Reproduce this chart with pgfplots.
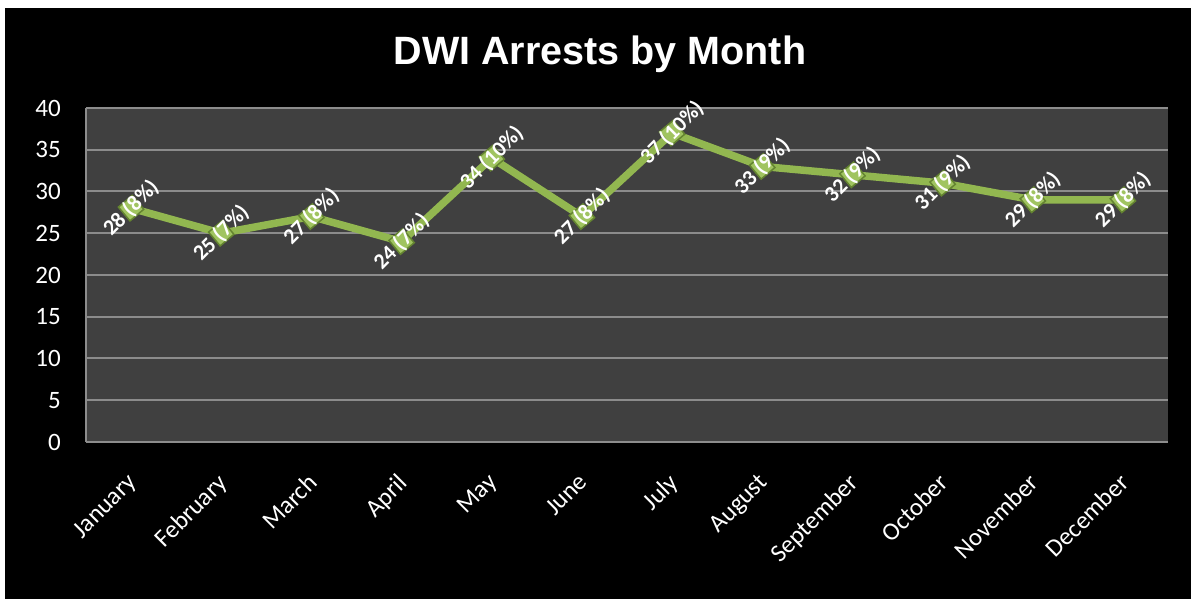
\documentclass[border=0pt]{standalone}
\usepackage{fontspec}
\setmainfont{Carlito}
\newfontfamily\titlefont{Liberation Sans}
\usepackage{pgfplots}
\pgfplotsset{compat=1.18}
\definecolor{bggray}{RGB}{64,64,64}
\definecolor{gridgray}{RGB}{140,140,140}
\definecolor{linegreen}{RGB}{146,183,80}
\definecolor{markgreen}{RGB}{160,196,96}
\definecolor{markedge}{RGB}{100,132,48}
\begin{document}
\begin{tikzpicture}[x=1bp,y=1bp]
\fill[white] (0,0) rectangle (1191,599);
\fill[black] (5,0) rectangle (1191,591);
\useasboundingbox (0,0) rectangle (1191,599);
\node[font=\titlefont\bfseries\fontsize{39.5bp}{46bp}\selectfont, white] at (600,545) {DWI Arrests by Month};
\begin{axis}[
  at={(86bp,157bp)}, anchor=south west,
  scale only axis, width=1082bp, height=334bp,
  xmin=-0.5, xmax=11.5, ymin=0, ymax=40,
  ytick={0,5,...,40},
  xtick={0,...,11},
  xticklabels={January,February,March,April,May,June,July,August,September,October,November,December},
  axis background/.style={fill=bggray},
  ymajorgrids, grid style={gridgray, line width=2bp},
  axis lines*=left,
  axis line style={gridgray, line width=2bp},
  major tick length=0pt,
  tick label style={white, font=\fontsize{25bp}{30bp}\selectfont},
  /pgf/number format/assume math mode=true,
  yticklabel style={anchor=east, inner sep=0pt, xshift=-25bp},
  xticklabel style={xshift=-5bp, yshift=-30bp, rotate=45, anchor=north east, inner sep=0pt},
  clip=false,
]
\addplot[color=linegreen, line width=7.5bp, no marks] coordinates {
  (0,28) (1,25) (2,27) (3,24) (4,34) (5,27) (6,37) (7,33) (8,32) (9,31) (10,29) (11,29)
};
\addplot[only marks, mark=square*, mark size=9bp,
  mark options={rotate=40, fill=markgreen, draw=markedge, line width=1.5bp},
  point meta=explicit symbolic,
  nodes near coords,
  every node near coord/.append style={anchor=center, rotate=45, white, font=\bfseries\fontsize{22bp}{26bp}\selectfont}] coordinates {
  (0,28) [28 (8\%)]
  (1,25) [25 (7\%)]
  (2,27) [27 (8\%)]
  (3,24) [24 (7\%)]
  (4,34) [34 (10\%)]
  (5,27) [27 (8\%)]
  (6,37) [37 (10\%)]
  (7,33) [33 (9\%)]
  (8,32) [32 (9\%)]
  (9,31) [31 (9\%)]
  (10,29) [29 (8\%)]
  (11,29) [29 (8\%)]
};
\end{axis}
\end{tikzpicture}
\end{document}
